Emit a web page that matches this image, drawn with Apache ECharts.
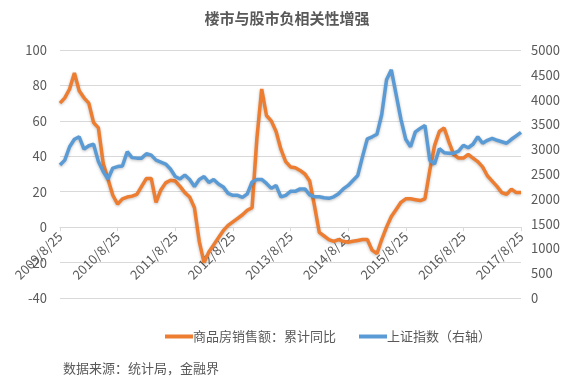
<!DOCTYPE html>
<html>
<head>
<meta charset="utf-8">
<script src="https://cdn.jsdelivr.net/npm/echarts@6/dist/echarts.min.js"></script>
<style>
html,body{margin:0;padding:0;background:#fff;}
#c{width:574px;height:390px;}
</style>
</head>
<body>
<div id="c"></div>
<script>
// Monthly categories 2009/8/25 .. 2017/8/25
var categories = [];
for (var y = 2009, m = 8; y < 2017 || (y === 2017 && m <= 8); ) {
  categories.push(y + '/' + m + '/25');
  m++; if (m > 12) { m = 1; y++; }
}
var title = '楼市与股市负相关性增强';
var salesName = '商品房销售额：累计同比';
var indexName = '上证指数（右轴）';
var sourceText = '数据来源：统计局，金融界';
var leftTicks = [-40, -20, 0, 20, 40, 60, 80, 100];
var rightTicks = [0, 500, 1000, 1500, 2000, 2500, 3000, 3500, 4000, 4500, 5000];

// 商品房销售额：累计同比 (%)
var sales = [
  70, 73, 78, 87, 77, 73, 70, 59, 56, 36, 27, 18,
  13, 16, 17, 17.5, 18.5, 23, 27.5, 27.5, 14, 21, 25, 26.5,
  26, 23, 19.5, 17, 11, -8, -20, -14, -10, -6, -2, 1,
  3, 5, 7, 9.5, 11, 50, 78, 63, 60, 54, 44, 37,
  34, 33.5, 32, 30, 26, 12, -3, -5, -7, -8, -7, -8,
  -8.5, -8, -7.5, -7, -7, -13, -15, -7, 0, 6, 10, 14,
  16, 16, 15.5, 15, 16, 32, 46, 54, 56, 48, 41, 39,
  39, 41, 39, 37, 34, 29, 26, 23, 19.5, 18.5, 21.5, 19.5,
  19.5
];
// 上证指数
var shIndex = [
  2680, 2780, 3050, 3200, 3250, 3000, 3070, 3100, 2750, 2550, 2400, 2620,
  2650, 2660, 2950, 2830, 2820, 2820, 2910, 2880, 2780, 2740, 2700, 2600,
  2450, 2400, 2480, 2390, 2250, 2390, 2450, 2330, 2390, 2300, 2240, 2110,
  2070, 2070, 2030, 2100, 2340, 2390, 2390, 2310, 2210, 2270, 2040, 2070,
  2150, 2150, 2200, 2200, 2080, 2040, 2040, 2020, 2010, 2040, 2100, 2200,
  2270, 2370, 2470, 2850, 3210, 3250, 3300, 3700, 4400, 4600, 4100, 3600,
  3200, 3050, 3350, 3420, 3480, 2780, 2700, 3010, 2930, 2920, 2920, 2960,
  3080, 3030, 3100, 3250, 3120, 3180, 3220, 3180, 3150, 3120, 3200, 3270,
  3340
];

var txt = '#595959';
var font = '"Noto Sans CJK SC", "Microsoft YaHei", sans-serif';
var gridTop = 50, gridBottom = 92, H = 390;
var plotH = H - gridTop - gridBottom;
var zeroOffset = -plotH * (0 - leftTicks[0]) / (leftTicks[leftTicks.length - 1] - leftTicks[0]);
var chart = echarts.init(document.getElementById('c'));
chart.setOption({
  animation: false,
  backgroundColor: '#fff',
  textStyle: { fontFamily: font },
  title: {
    text: title, left: 'center', top: 6,
    textStyle: { fontSize: 15, fontWeight: 'bold', color: txt, fontFamily: font }
  },
  legend: {
    top: 325, left: 160, itemGap: 23,
    icon: 'rect', itemWidth: 28, itemHeight: 4,
    textStyle: { fontSize: 13, color: txt, fontFamily: font, padding: [0, 0, 0, -5] },
    data: [salesName, indexName]
  },
  graphic: [{
    type: 'text', left: 63, top: 362,
    style: { text: sourceText, fontSize: 13, fill: txt, fontFamily: font }
  }],
  grid: { left: 60, right: 53, top: gridTop, bottom: gridBottom },
  xAxis: {
    type: 'category', data: categories, boundaryGap: false,
    position: 'bottom', offset: zeroOffset,
    axisLine: { onZero: false, lineStyle: { color: '#d9d9d9' } },
    axisTick: { show: true, interval: 11, length: 4, lineStyle: { color: '#d9d9d9' } },
    axisLabel: { interval: 11, rotate: 45, color: txt, fontSize: 13, margin: 7, fontFamily: font, showMaxLabel: true },
    splitLine: { show: false }
  },
  yAxis: [{
    type: 'value', min: leftTicks[0], max: leftTicks[leftTicks.length - 1], interval: 20,
    axisLine: { show: false }, axisTick: { show: false },
    axisLabel: { color: txt, fontSize: 13, margin: 13, fontFamily: font },
    splitLine: { lineStyle: { color: '#d9d9d9' } }
  }, {
    type: 'value', min: rightTicks[0], max: rightTicks[rightTicks.length - 1], interval: 500,
    axisLine: { show: false }, axisTick: { show: false },
    axisLabel: { color: txt, fontSize: 13, margin: 10, fontFamily: font, formatter: function (v) { return String(v); } },
    splitLine: { show: false }
  }],
  series: [{
    name: salesName, type: 'line', yAxisIndex: 0, data: sales,
    showSymbol: false, symbol: 'none', color: '#ED7D31',
    lineStyle: { width: 3.5, color: '#ED7D31', shadowBlur: 3, shadowColor: 'rgba(0,0,0,0.25)', shadowOffsetY: 1 }
  }, {
    name: indexName, type: 'line', yAxisIndex: 1, data: shIndex,
    showSymbol: false, symbol: 'none', color: '#5B9BD5',
    lineStyle: { width: 3.5, color: '#5B9BD5', shadowBlur: 3, shadowColor: 'rgba(0,0,0,0.25)', shadowOffsetY: 1 }
  }]
});
</script>
</body>
</html>
